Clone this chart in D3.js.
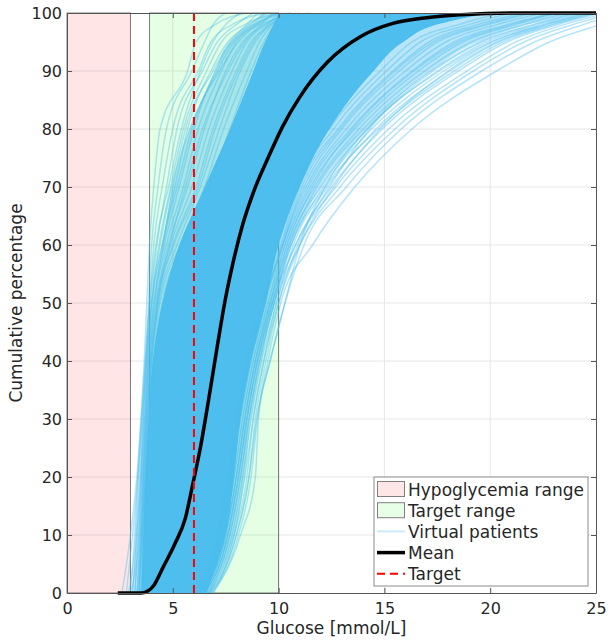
<!DOCTYPE html>
<html lang="en">
<head>
<meta charset="UTF-8">
<title>Glucose CDF</title>
<script src="https://d3js.org/d3.v7.min.js"></script>
<style>
  body { margin: 0; background: #fff; }
  text { font-family: "DejaVu Sans", sans-serif; fill: #262626; }
  .grid line { stroke: #e6e6e6; stroke-width: 1; }
  .patient { fill: none; stroke: #4dbeee; stroke-opacity: 0.42; stroke-width: 1.5; }
  .axis path, .axis line { stroke: #555; }
  .axis text { font-size: 16px; }
</style>
</head>
<body>
<svg id="chart" width="608" height="642"></svg>
<script>
// percentile levels at which every curve below is read
const pctLevels = [0, 10, 20, 30, 40, 50, 60, 70, 80, 90, 95, 98, 100];

// dense bundle of virtual patients (left / right edge of the solid band)
const coreLow  = [3.5, 3.6, 3.7, 3.85, 4.05, 4.5, 5.3, 6.5, 7.7, 8.8, 9.35, 9.75, 10.0];
const coreHigh = [6.6, 7.5, 7.9, 8.2, 8.7, 9.4, 10.0, 11.0, 12.4, 14.5, 15.9, 17.5, 20.0];
// outer edge of the looser fringe of overlapping patients on each side
const fringeLow  = [3.4, 3.5, 3.6, 3.75, 3.9, 4.1, 4.5, 5.0, 5.8, 7.0, 7.7, 8.6, 9.3];
const fringeHigh = [6.8, 7.9, 8.4, 8.7, 9.2, 9.8, 10.6, 12.0, 14.2, 17.2, 19.4, 21.8, 24.0];

// single virtual patients outside the solid band (glucose at pctLevels)
const fastPatients = [
  [3.0, 3.2, 3.35, 3.5, 3.65, 3.77, 3.9, 4.1, 4.4, 5.7, 6.1, 7.0, 8.5],
  [3.1, 3.3, 3.45, 3.6, 3.75, 3.85, 4.0, 4.3, 4.7, 5.9, 6.5, 6.9, 7.5],
  [2.9, 3.25, 3.4, 3.55, 3.7, 3.9, 4.1, 4.5, 5.0, 6.2, 6.8, 7.8, 9.5],
  [3.2, 3.35, 3.5, 3.6, 3.75, 3.95, 4.25, 4.7, 5.2, 6.4, 7.1, 8.0, 8.8],
  [3.0, 3.4, 3.5, 3.65, 3.8, 4.0, 4.35, 4.9, 5.5, 6.6, 7.3, 8.4, 10.2],
  [3.3, 3.45, 3.55, 3.7, 3.85, 4.05, 4.5, 5.1, 5.7, 6.8, 7.6, 8.6, 9.4],
  [3.2, 3.45, 3.6, 3.7, 3.85, 4.1, 4.6, 5.3, 6.0, 7.0, 7.8, 8.8, 10.6],
  [3.4, 3.5, 3.6, 3.75, 3.9, 4.15, 4.7, 5.5, 6.2, 7.3, 8.0, 9.0, 9.9],
  [3.3, 3.5, 3.65, 3.75, 3.9, 4.2, 4.8, 5.7, 6.5, 7.5, 8.3, 9.3, 11.0],
  [2.6, 3.0, 3.3, 3.5, 3.7, 3.9, 4.2, 4.8, 5.4, 6.3, 6.9, 7.5, 8.2],
  [2.8, 3.1, 3.35, 3.55, 3.75, 4.0, 4.5, 5.2, 5.9, 7.1, 7.9, 8.9, 10.0],
  [3.35, 3.55, 3.65, 3.8, 3.95, 4.25, 4.9, 5.9, 6.7, 7.8, 8.5, 9.4, 10.4],
  [3.4, 3.55, 3.7, 3.8, 4.0, 4.3, 5.0, 6.1, 6.9, 8.0, 8.7, 9.5, 10.0],
  [3.45, 3.6, 3.7, 3.85, 4.0, 4.35, 5.2, 6.3, 7.2, 8.2, 8.9, 9.6, 10.8],
  [3.5, 3.6, 3.75, 3.85, 4.05, 4.4, 5.35, 6.5, 7.4, 8.5, 9.1, 9.7, 10.3],
  [3.5, 3.65, 3.75, 3.9, 4.1, 4.5, 5.5, 6.7, 7.7, 8.7, 9.3, 9.8, 10.5],
  [3.2, 3.4, 3.55, 3.7, 3.85, 4.1, 4.55, 5.0, 5.6, 6.9, 7.7, 8.5, 9.0],
  [3.3, 3.5, 3.6, 3.75, 3.95, 4.25, 4.85, 5.6, 6.4, 7.6, 8.4, 9.2, 9.7],
  [3.1, 3.3, 3.5, 3.65, 3.8, 4.0, 4.4, 4.95, 5.8, 7.2, 8.1, 9.1, 11.5],
  [3.4, 3.55, 3.7, 3.85, 4.0, 4.3, 5.05, 6.2, 7.0, 8.1, 8.8, 9.6, 10.6]
];
const slowPatients = [
  [6.0, 7.1, 7.6, 8.0, 8.5, 9.2, 10.0, 10.8, 12.4, 14.8, 16.3, 18.5, 20.5],
  [6.1, 7.2, 7.7, 8.1, 8.6, 9.3, 10.1, 10.9, 12.6, 15.1, 16.7, 19.0, 21.0],
  [6.2, 7.3, 7.8, 8.2, 8.7, 9.4, 10.15, 11.0, 12.8, 15.4, 17.1, 19.4, 21.5],
  [6.3, 7.4, 7.9, 8.3, 8.8, 9.5, 10.2, 11.2, 13.0, 15.7, 17.5, 19.9, 22.0],
  [6.0, 7.2, 7.7, 8.1, 8.6, 9.3, 10.2, 11.3, 13.2, 16.0, 17.9, 20.3, 22.5],
  [6.4, 7.5, 8.0, 8.4, 8.9, 9.6, 10.3, 11.4, 13.4, 16.3, 18.3, 20.8, 23.0],
  [6.2, 7.3, 7.8, 8.2, 8.7, 9.5, 10.3, 11.5, 13.6, 16.6, 18.7, 21.2, 23.2],
  [6.5, 7.6, 8.1, 8.5, 9.0, 9.7, 10.4, 11.7, 13.8, 16.9, 19.1, 21.6, 23.6],
  [6.3, 7.4, 7.9, 8.3, 8.8, 9.6, 10.5, 11.8, 14.0, 17.2, 19.5, 22.0, 24.0],
  [6.6, 7.7, 8.2, 8.6, 9.1, 9.8, 10.5, 12.0, 14.2, 17.5, 19.8, 22.3, 24.3],
  [6.4, 7.5, 8.0, 8.4, 8.9, 9.7, 10.6, 12.1, 14.4, 17.8, 20.1, 22.6, 24.6],
  [6.7, 7.8, 8.3, 8.7, 9.2, 9.9, 10.7, 12.3, 14.6, 18.1, 20.4, 22.9, 24.9],
  [6.5, 7.6, 8.1, 8.5, 9.0, 9.8, 10.8, 12.5, 14.9, 18.5, 20.8, 23.2, 25.2],
  [6.8, 8.0, 8.6, 8.9, 9.4, 10.0, 10.9, 12.7, 15.2, 18.9, 21.2, 23.5, 25.5],
  [6.7, 7.9, 8.5, 8.8, 9.3, 9.9, 11.0, 12.9, 15.5, 19.2, 21.6, 23.9, 25.8],
  [6.8, 8.1, 8.7, 9.0, 9.6, 10.3, 11.2, 13.2, 15.8, 19.6, 22.1, 24.4, 26.2],
  [6.9, 8.2, 8.9, 9.05, 9.5, 10.1, 11.6, 13.6, 16.3, 20.3, 22.8, 25.2, 27.0],
  [6.4, 7.5, 8.0, 8.4, 8.9, 9.6, 10.4, 11.6, 13.5, 16.4, 18.5, 21.0, 23.0],
  [6.6, 7.7, 8.2, 8.6, 9.1, 9.8, 10.6, 12.2, 14.7, 18.3, 20.6, 23.0, 25.0],
  [6.1, 7.2, 7.7, 8.1, 8.6, 9.3, 10.2, 11.1, 12.9, 15.5, 17.3, 19.7, 21.8],
  [6.7, 7.9, 8.4, 8.8, 9.3, 10.0, 11.0, 12.6, 14.8, 18.0, 20.3, 22.7, 24.8],
  [6.5, 7.6, 8.1, 8.5, 9.0, 9.7, 10.8, 12.4, 14.3, 17.3, 19.6, 22.1, 24.1],
  [6.9, 8.0, 8.6, 8.96, 9.6, 10.3, 11.0, 12.2, 14.2, 17.6, 20.0, 22.5, 24.5]
];

// mean cumulative curve
const meanGlucose = [2.4, 3.5, 3.8, 4.1, 4.55, 5.1, 5.6, 5.9, 6.3, 6.7, 7.1, 7.45, 7.85, 8.3, 8.8, 9.5, 10.2, 11.0, 12.3, 13.9, 15.4, 17.0, 18.6, 21.0, 25.0];
const meanPct     = [0, 0, 0.3, 1.3, 4.5, 8.5, 13, 18, 25, 33.5, 42.5, 50, 57, 63.5, 69, 75, 80.5, 85.5, 91.5, 96, 98.2, 99.2, 99.7, 100, 100];

const hypoRange = [0, 3];
const targetRange = [3.9, 10];
const targetGlucose = 6;

const xTicks = [0, 5, 10, 15, 20, 25];
const yTicks = [0, 10, 20, 30, 40, 50, 60, 70, 80, 90, 100];
const legendLabels = ["Hypoglycemia range", "Target range", "Virtual patients", "Mean", "Target"];

const svg = d3.select("#chart");
const x = d3.scaleLinear().domain([0, 25]).range([67, 596]);
const y = d3.scaleLinear().domain([0, 100]).range([593, 13]);

// clip to the plot area (a little slack so lines on 0 / 100 keep full width)
svg.append("clipPath").attr("id", "plot-clip")
  .append("rect")
  .attr("x", x(0)).attr("y", y(100) - 3)
  .attr("width", x(25) - x(0)).attr("height", y(0) - y(100) + 6);

// grid
const grid = svg.append("g").attr("class", "grid");
grid.selectAll(".gx").data(xTicks.slice(1, -1)).enter().append("line")
  .attr("x1", d => x(d)).attr("x2", d => x(d))
  .attr("y1", y(0)).attr("y2", y(100));
grid.selectAll(".gy").data(yTicks.slice(1, -1)).enter().append("line")
  .attr("x1", x(0)).attr("x2", x(25))
  .attr("y1", d => y(d)).attr("y2", d => y(d));

// glucose ranges
svg.append("rect")
  .attr("x", x(hypoRange[0])).attr("y", y(100))
  .attr("width", x(hypoRange[1]) - x(hypoRange[0])).attr("height", y(0) - y(100))
  .attr("fill", "#ff0000").attr("fill-opacity", 0.1)
  .attr("stroke", "#000").attr("stroke-opacity", 0.5);
svg.append("rect")
  .attr("x", x(targetRange[0])).attr("y", y(100))
  .attr("width", x(targetRange[1]) - x(targetRange[0])).attr("height", y(0) - y(100))
  .attr("fill", "#00ff00").attr("fill-opacity", 0.1)
  .attr("stroke", "#000").attr("stroke-opacity", 0.5);

const plot = svg.append("g").attr("clip-path", "url(#plot-clip)");

// bands of overlapping patients
const band = d3.area()
  .y((d, i) => y(pctLevels[i]))
  .x0(d => x(d[0]))
  .x1(d => x(d[1]))
  .curve(d3.curveMonotoneY);
plot.append("path")
  .datum(d3.zip(fringeLow, coreLow))
  .attr("d", band)
  .attr("fill", "#4dbeee").attr("fill-opacity", 0.4);
plot.append("path")
  .datum(d3.zip(coreHigh, fringeHigh))
  .attr("d", band)
  .attr("fill", "#4dbeee").attr("fill-opacity", 0.4);
plot.append("path")
  .datum(d3.zip(coreLow, coreHigh))
  .attr("d", band)
  .attr("fill", "#4dbeee");

const patientLine = d3.line()
  .x(d => x(d))
  .y((d, i) => y(pctLevels[i]))
  .curve(d3.curveMonotoneX);
plot.selectAll(".patient")
  .data(fastPatients.concat(slowPatients))
  .enter().append("path")
  .attr("class", "patient")
  .attr("d", patientLine);

// mean
const meanLine = d3.line()
  .x(d => x(d[0]))
  .y(d => y(d[1]))
  .curve(d3.curveMonotoneX);
plot.append("path")
  .datum(d3.zip(meanGlucose, meanPct))
  .attr("d", meanLine)
  .attr("fill", "none")
  .attr("stroke", "#000")
  .attr("stroke-width", 3.5);

// target
svg.append("line")
  .attr("x1", x(targetGlucose)).attr("x2", x(targetGlucose))
  .attr("y1", y(0)).attr("y2", y(100))
  .attr("stroke", "#ff0000").attr("stroke-width", 2)
  .attr("stroke-dasharray", "8,5");

// axes (box with inward ticks)
svg.append("g").attr("class", "axis")
  .attr("transform", `translate(0,${y(0)})`)
  .call(d3.axisBottom(x).tickValues(xTicks).tickSizeInner(-5).tickSizeOuter(0).tickPadding(10));
svg.append("g").attr("class", "axis")
  .attr("transform", `translate(${x(0)},0)`)
  .call(d3.axisLeft(y).tickValues(yTicks).tickSizeInner(-5).tickSizeOuter(0).tickPadding(5));
svg.append("g").attr("class", "axis")
  .attr("transform", `translate(0,${y(100)})`)
  .call(d3.axisTop(x).tickValues(xTicks).tickSizeInner(-5).tickSizeOuter(0).tickFormat(""));
svg.append("g").attr("class", "axis")
  .attr("transform", `translate(${x(25)},0)`)
  .call(d3.axisRight(y).tickValues(yTicks).tickSizeInner(-5).tickSizeOuter(0).tickFormat(""));
svg.selectAll(".axis text").attr("fill", "#262626");

// axis labels
svg.append("text")
  .attr("x", (x(0) + x(25)) / 2).attr("y", 634)
  .attr("text-anchor", "middle").style("font-size", "17px")
  .text("Glucose [mmol/L]");
svg.append("text")
  .attr("transform", `translate(22,${(y(0) + y(100)) / 2}) rotate(-90)`)
  .attr("text-anchor", "middle").style("font-size", "17px")
  .text("Cumulative percentage");

// legend
const legend = svg.append("g").attr("transform", "translate(374,477)");
legend.append("rect")
  .attr("width", 214).attr("height", 109)
  .attr("fill", "#fff").attr("stroke", "#8c8c8c");
const rowY = i => 12 + i * 21.2;
legend.append("rect").attr("x", 3.5).attr("y", rowY(0) - 7.5).attr("width", 27).attr("height", 15)
  .attr("fill", "#ffe6e6").attr("stroke", "#7f7f7f");
legend.append("rect").attr("x", 3.5).attr("y", rowY(1) - 7.5).attr("width", 27).attr("height", 15)
  .attr("fill", "#e6ffe6").attr("stroke", "#7f7f7f");
legend.append("line").attr("x1", 3).attr("x2", 31).attr("y1", rowY(2)).attr("y2", rowY(2))
  .attr("stroke", "#4dbeee").attr("stroke-opacity", 0.3).attr("stroke-width", 2);
legend.append("line").attr("x1", 3).attr("x2", 31).attr("y1", rowY(3)).attr("y2", rowY(3))
  .attr("stroke", "#000").attr("stroke-width", 3.5);
legend.append("line").attr("x1", 3).attr("x2", 31).attr("y1", rowY(4)).attr("y2", rowY(4))
  .attr("stroke", "#ff0000").attr("stroke-width", 2).attr("stroke-dasharray", "8,5");
legend.selectAll(".lt").data(legendLabels).enter().append("text")
  .attr("x", 34).attr("y", (d, i) => rowY(i) + 6.5)
  .style("font-size", "17px")
  .text(d => d);
</script>
</body>
</html>
